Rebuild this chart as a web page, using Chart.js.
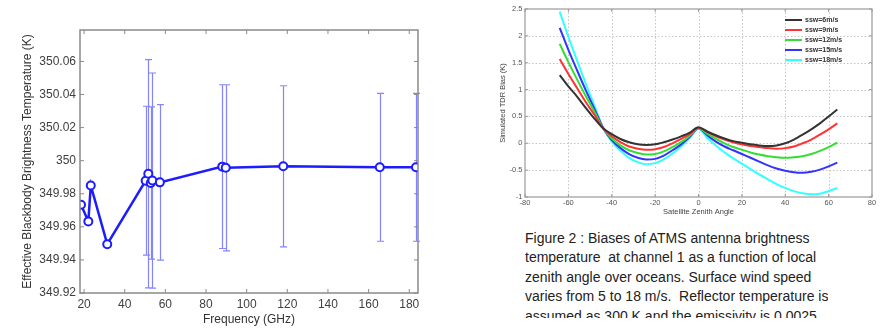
<!DOCTYPE html>
<html><head><meta charset="utf-8">
<script src="https://cdn.jsdelivr.net/npm/chart.js@4.4.0/dist/chart.umd.min.js"></script>
<style>
html,body{margin:0;padding:0;background:#fff;width:880px;height:328px;overflow:hidden;position:relative}
#c1{position:absolute;left:0;top:0}
#c2{position:absolute;left:440px;top:0}
#cap{position:absolute;left:525px;top:228.5px;height:89px;overflow:hidden;font:14px "Liberation Sans",Arial,sans-serif;line-height:19.5px;color:#222;white-space:nowrap}
</style></head><body>
<canvas id="c1" width="440" height="328"></canvas>
<canvas id="c2" width="440" height="225"></canvas>
<div id="cap">Figure 2 : Biases of ATMS antenna brightness<br>temperature&nbsp; at channel 1 as a function of local<br>zenith angle over oceans. Surface wind speed<br>varies from 5 to 18 m/s.&nbsp; Reflector temperature is<br>assumed as 300 K and the emissivity is 0.0025</div>
<script>
// ---- Left chart data ----
const freqGHz = [18.5, 22.1, 23.3, 31.4, 50.3, 51.6, 52.8, 53.6, 57.29, 88.0, 89.7, 118.0, 165.5, 183.31];
const tbEff   = [349.9734, 349.9633, 349.985, 349.9495, 349.9879, 349.9921, 349.9865, 349.988, 349.9869, 349.9964, 349.9957, 349.9966, 349.996, 349.996];
const tbErr   = [0, 0, 0, 0, 0.045, 0.069, 0.046, 0.065, 0.047, 0.0495, 0.0502, 0.0487, 0.0447, 0.0447];
const freqTicks = [20, 40, 60, 80, 100, 120, 140, 160, 180];
const tbTicks = [349.92, 349.94, 349.96, 349.98, 350, 350.02, 350.04, 350.06];
const tbTickLabels = ['349.92', '349.94', '349.96', '349.98', '350', '350.02', '350.04', '350.06'];

// ---- Right chart data ----
const zenithAngles = [-64,-60,-56,-52,-48,-44,-40,-36,-32,-28,-24,-20,-16,-12,-8,-4,0,4,8,12,16,20,24,28,32,36,40,44,48,52,56,60,64];
const bias6  = [1.27,1.06,0.87,0.66,0.46,0.28,0.17,0.08,0.02,-0.02,-0.03,-0.02,0.02,0.07,0.13,0.20,0.30,0.22,0.15,0.09,0.04,0.01,-0.02,-0.04,-0.05,-0.04,0.0,0.07,0.16,0.26,0.37,0.50,0.63];
const bias9  = [1.57,1.29,1.03,0.77,0.53,0.28,0.13,0.02,-0.06,-0.10,-0.12,-0.11,-0.07,0.0,0.08,0.17,0.29,0.21,0.13,0.07,0.02,-0.02,-0.05,-0.07,-0.09,-0.10,-0.09,-0.06,0.0,0.07,0.16,0.26,0.37];
const bias12 = [1.85,1.51,1.19,0.88,0.59,0.28,0.09,-0.04,-0.13,-0.18,-0.21,-0.20,-0.15,-0.07,0.02,0.14,0.28,0.18,0.08,0.0,-0.07,-0.12,-0.17,-0.21,-0.24,-0.26,-0.27,-0.26,-0.24,-0.20,-0.14,-0.07,0.01];
const bias15 = [2.15,1.74,1.36,0.99,0.64,0.29,0.06,-0.09,-0.20,-0.27,-0.30,-0.29,-0.23,-0.13,-0.02,0.12,0.28,0.15,0.03,-0.06,-0.13,-0.20,-0.27,-0.34,-0.41,-0.47,-0.51,-0.54,-0.55,-0.53,-0.49,-0.43,-0.36];
const bias18 = [2.45,1.98,1.54,1.11,0.70,0.29,0.03,-0.14,-0.27,-0.35,-0.39,-0.37,-0.30,-0.19,-0.06,0.10,0.27,0.10,-0.04,-0.17,-0.28,-0.38,-0.48,-0.58,-0.67,-0.76,-0.83,-0.89,-0.93,-0.95,-0.94,-0.89,-0.83];
const windLabels = ['ssw=6m/s', 'ssw=9m/s', 'ssw=12m/s', 'ssw=15m/s', 'ssw=18m/s'];
const windColors = ['#333333', '#ff3333', '#33dd33', '#3333ff', '#33ffff'];
const angleTicks = [-80, -60, -40, -20, 0, 20, 40, 60, 80];
const biasTicks = [-1, -0.5, 0, 0.5, 1, 1.5, 2, 2.5];
const biasTickLabels = ['-1', '-0.5', '0', '0.5', '1', '1.5', '2', '2.5'];

const FONT = '"Liberation Sans", Arial, sans-serif';

function setTicks(arr) { return function(scale) { scale.ticks = arr.map(v => ({ value: v })); }; }
function labelFrom(vals, labels) {
  return function(v) {
    let best = 0;
    for (let i = 1; i < vals.length; i++) if (Math.abs(vals[i] - v) < Math.abs(vals[best] - v)) best = i;
    return labels[best];
  };
}

// Box frame with inward tick marks, optional dotted grid
const boxPlugin = {
  id: 'box',
  beforeDatasetsDraw(chart, args, opts) {
    if (!opts.grid) return;
    const { ctx, chartArea: a, scales: { x, y } } = chart;
    ctx.save();
    ctx.strokeStyle = opts.gridColor; ctx.lineWidth = 1; ctx.setLineDash([1.5, 2]);
    x.ticks.forEach(t => {
      const px = Math.round(x.getPixelForValue(t.value)) + 0.5;
      if (px <= a.left + 1 || px >= a.right - 1) return;
      ctx.beginPath(); ctx.moveTo(px, a.top); ctx.lineTo(px, a.bottom); ctx.stroke();
    });
    y.ticks.forEach(t => {
      const py = Math.round(y.getPixelForValue(t.value)) + 0.5;
      if (py <= a.top + 1 || py >= a.bottom - 1) return;
      ctx.beginPath(); ctx.moveTo(a.left, py); ctx.lineTo(a.right, py); ctx.stroke();
    });
    ctx.restore();
  },
  afterDraw(chart, args, opts) {
    const { ctx, chartArea: a, scales: { x, y } } = chart;
    ctx.save();
    ctx.strokeStyle = opts.color; ctx.lineWidth = opts.width; ctx.setLineDash([]);
    ctx.strokeRect(a.left, a.top, a.right - a.left, a.bottom - a.top);
    const L = opts.tickLen;
    ctx.lineWidth = 1;
    ctx.beginPath();
    x.ticks.forEach(t => {
      const px = x.getPixelForValue(t.value);
      ctx.moveTo(px, a.bottom); ctx.lineTo(px, a.bottom - L);
      ctx.moveTo(px, a.top); ctx.lineTo(px, a.top + L);
    });
    y.ticks.forEach(t => {
      const py = y.getPixelForValue(t.value);
      ctx.moveTo(a.left, py); ctx.lineTo(a.left + L, py);
      ctx.moveTo(a.right, py); ctx.lineTo(a.right - L, py);
    });
    ctx.stroke();
    ctx.restore();
  }
};

// Error bars drawn through the scales
const errorBarPlugin = {
  id: 'errbars',
  beforeDatasetsDraw(chart, args, opts) {
    if (!opts.errors) return;
    const { ctx, scales: { x, y } } = chart;
    ctx.save();
    ctx.strokeStyle = opts.color; ctx.lineWidth = opts.width;
    ctx.beginPath();
    opts.xs.forEach((fx, i) => {
      const e = opts.errors[i];
      if (!e) return;
      const px = Math.round(x.getPixelForValue(fx)) + 0.5;
      const yt = y.getPixelForValue(opts.ys[i] + e);
      const yb = y.getPixelForValue(opts.ys[i] - e);
      const c = opts.cap;
      ctx.moveTo(px, yt); ctx.lineTo(px, yb);
      ctx.moveTo(px - c, yt); ctx.lineTo(px + c, yt);
      ctx.moveTo(px - c, yb); ctx.lineTo(px + c, yb);
    });
    ctx.stroke();
    ctx.restore();
  }
};

// In-plot legend (top right) for right chart
const legendPlugin = {
  id: 'inlegend',
  afterDraw(chart, args, opts) {
    if (!opts.display) return;
    const { ctx } = chart;
    ctx.save();
    ctx.font = 'bold ' + opts.fontSize + 'px ' + FONT;
    ctx.textBaseline = 'middle';
    ctx.fillStyle = '#333';
    chart.data.datasets.forEach((ds, i) => {
      const yy = opts.y + i * opts.step;
      ctx.strokeStyle = ds.borderColor; ctx.lineWidth = 2;
      ctx.beginPath(); ctx.moveTo(opts.x, yy); ctx.lineTo(opts.x + opts.lineLen, yy); ctx.stroke();
      ctx.fillText(ds.label, opts.x + opts.lineLen + 3, yy + 0.5);
    });
    ctx.restore();
  }
};

// ---- Left chart ----
new Chart(document.getElementById('c1'), {
  type: 'line',
  data: {
    datasets: [{
      data: freqGHz.map((f, i) => ({ x: f, y: tbEff[i] })),
      borderColor: '#1c1cff',
      borderWidth: 2.5,
      pointRadius: 4,
      pointBorderWidth: 2,
      pointBorderColor: '#1c1cff',
      pointBackgroundColor: '#ffffff',
      tension: 0,
      fill: false
    }]
  },
  options: {
    responsive: false, animation: false, devicePixelRatio: 1,
    layout: { padding: { top: 30, right: 22, left: 0, bottom: 0 } },
    plugins: {
      legend: { display: false }, tooltip: { enabled: false },
      box: { color: '#8a8a8a', width: 1.5, tickLen: 4 },
      errbars: { xs: freqGHz, ys: tbEff, errors: tbErr, color: 'rgba(110,110,255,0.85)', width: 1.2, cap: 3.5 }
    },
    scales: {
      x: {
        type: 'linear', min: 18, max: 184.3,
        afterBuildTicks: setTicks(freqTicks),
        afterFit(s) { s.height = 35; },
        grid: { display: false, drawTicks: false },
        border: { display: false },
        ticks: { autoSkip: false, maxRotation: 0, padding: 4, color: '#404040', font: { size: 12, family: FONT }, callback: v => String(v) },
        title: { display: true, text: 'Frequency (GHz)', color: '#333', font: { size: 12, family: FONT }, padding: { top: 0, bottom: 1 } }
      },
      y: {
        type: 'linear', min: 349.92, max: 350.079,
        afterBuildTicks: setTicks(tbTicks),
        afterFit(s) { s.width = 80; },
        grid: { display: false, drawTicks: false },
        border: { display: false },
        ticks: { autoSkip: false, padding: 4, color: '#404040', font: { size: 12, family: FONT }, callback: labelFrom(tbTicks, tbTickLabels) },
        title: { display: true, text: 'Effective Blackbody Brightness Temperature (K)', color: '#333', font: { size: 12, family: FONT }, padding: { top: 20, bottom: 0 } }
      }
    }
  },
  plugins: [boxPlugin, errorBarPlugin]
});

// ---- Right chart ----
const biasSeries = [bias6, bias9, bias12, bias15, bias18];
new Chart(document.getElementById('c2'), {
  type: 'line',
  data: {
    datasets: biasSeries.map((s, k) => ({
      label: windLabels[k],
      data: zenithAngles.map((a, i) => ({ x: a, y: s[i] })),
      borderColor: windColors[k],
      borderWidth: 2,
      pointRadius: 0,
      cubicInterpolationMode: 'monotone',
      fill: false
    }))
  },
  options: {
    responsive: false, animation: false, devicePixelRatio: 1,
    layout: { padding: { top: 9, right: 8, left: 0, bottom: 0 } },
    plugins: {
      legend: { display: false }, tooltip: { enabled: false },
      box: { color: '#9a9a9a', width: 1.2, tickLen: 3, grid: true, gridColor: '#c4c4c4' },
      inlegend: { display: true, x: 345, y: 20, step: 10, lineLen: 17, fontSize: 7 }
    },
    scales: {
      x: {
        type: 'linear', min: -80, max: 80,
        afterBuildTicks: setTicks(angleTicks),
        afterFit(s) { s.height = 28; },
        grid: { display: false, drawTicks: false },
        border: { display: false },
        ticks: { autoSkip: false, maxRotation: 0, padding: 1.5, color: '#555', font: { size: 7.5, family: FONT }, callback: v => String(v) },
        title: { display: true, text: 'Satellite Zenith Angle', color: '#444', font: { size: 7.5, family: FONT }, padding: { top: 0, bottom: 8.5 } }
      },
      y: {
        type: 'linear', min: -1, max: 2.5,
        afterBuildTicks: setTicks(biasTicks),
        afterFit(s) { s.width = 85; },
        grid: { display: false, drawTicks: false },
        border: { display: false },
        ticks: { autoSkip: false, padding: 2.5, color: '#555', font: { size: 7.5, family: FONT }, callback: labelFrom(biasTicks, biasTickLabels) },
        title: { display: true, text: 'Simulated TDR Bias (K)', color: '#444', font: { size: 7.5, family: FONT }, padding: { top: 58.5, bottom: 0 } }
      }
    }
  },
  plugins: [boxPlugin, legendPlugin]
});
</script>
</body></html>
